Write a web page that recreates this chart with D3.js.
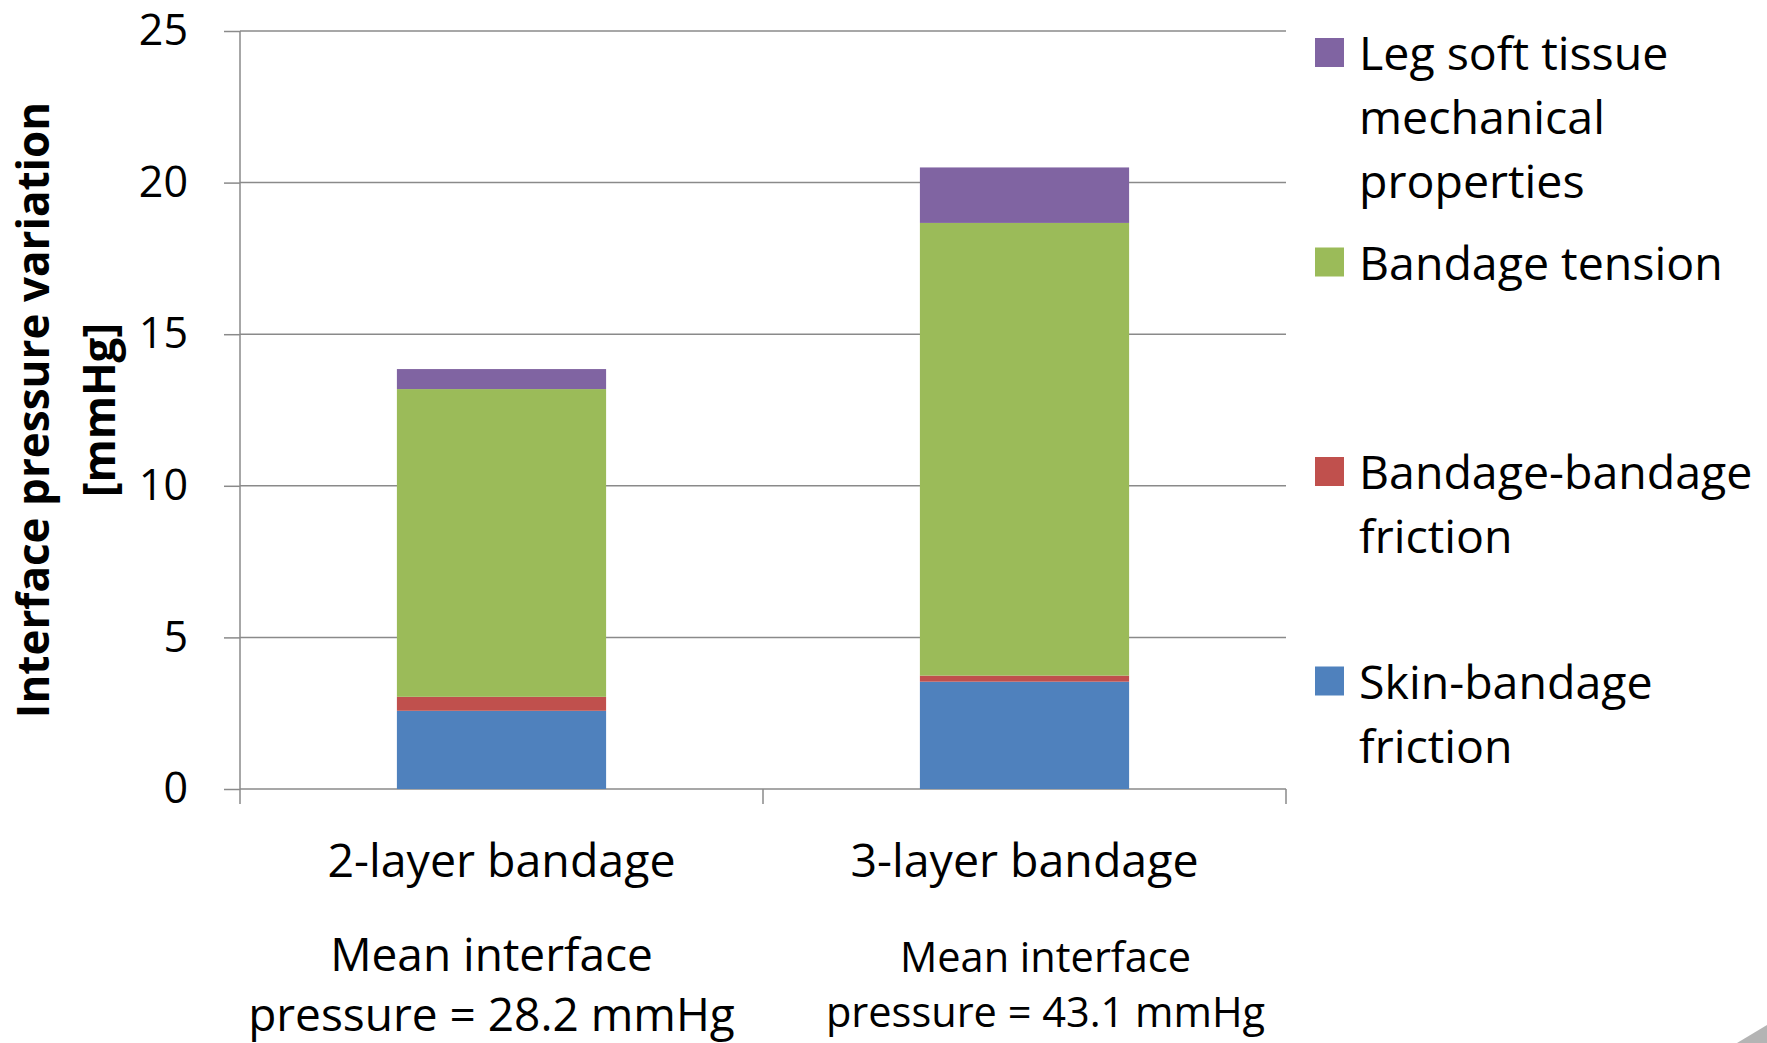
<!DOCTYPE html>
<html>
<head>
<meta charset="utf-8">
<script src="https://cdn.jsdelivr.net/npm/d3@7"></script>
<style>
  body { margin: 0; background: #fff; }
  svg { display: block; }
  text { font-family: "Open Sans", "DejaVu Sans", sans-serif; fill: #000; }
</style>
</head>
<body>
<svg id="chart" width="1767" height="1043"></svg>
<script>
// ---- data ----
const categories = ["2-layer bandage", "3-layer bandage"];
const meanPressure = ["28.2", "43.1"];           // mean interface pressure, mmHg
const seriesKeys = ["skin", "bandage", "tension", "tissue"];
const seriesLabels = [
  ["Skin-bandage", "friction"],
  ["Bandage-bandage", "friction"],
  ["Bandage tension"],
  ["Leg soft tissue", "mechanical", "properties"]
];
const skinBandageFriction    = [2.58, 3.54];
const bandageBandageFriction = [0.46, 0.20];
const bandageTension         = [10.15, 14.93];
const legSoftTissue          = [0.66, 1.83];
const yTickValues = [0, 5, 10, 15, 20, 25];

const colors = ["#4F81BD", "#C0504D", "#9BBB59", "#8064A2"];

// ---- layout ----
const svg = d3.select("#chart");
const plot = { left: 240, right: 1286, top: 31, bottom: 789 };
const gridColor = "#8a8a8a";
const labelSize = 46.5;

const rows = categories.map((c, i) => ({
  category: c,
  skin: skinBandageFriction[i],
  bandage: bandageBandageFriction[i],
  tension: bandageTension[i],
  tissue: legSoftTissue[i]
}));

const x = d3.scaleBand().domain(categories).range([plot.left, plot.right]).padding(0);
const y = d3.scaleLinear().domain([0, 25]).range([plot.bottom, plot.top]);
const barWidth = x.bandwidth() * 0.4;

// gridlines
svg.append("g")
  .selectAll("line")
  .data(yTickValues)
  .join("line")
  .attr("x1", plot.left).attr("x2", plot.right)
  .attr("y1", d => y(d)).attr("y2", d => y(d))
  .attr("stroke", gridColor).attr("stroke-width", 1.5);

// left axis with outward ticks
const yAxis = svg.append("g")
  .attr("transform", `translate(${plot.left},0)`)
  .call(d3.axisLeft(y).tickValues(yTickValues).tickSize(16).tickPadding(36).tickSizeOuter(0));
yAxis.select(".domain").remove();
yAxis.selectAll(".tick line").attr("stroke", gridColor).attr("stroke-width", 1.5);
yAxis.selectAll(".tick text").attr("font-size", 43).attr("fill", "#000")
  .style("font-family", '"Open Sans", sans-serif');
// vertical axis line
svg.append("line")
  .attr("x1", plot.left).attr("x2", plot.left)
  .attr("y1", plot.top).attr("y2", plot.bottom + 15)
  .attr("stroke", gridColor).attr("stroke-width", 1.5);

// bottom axis: category boundaries
const boundaries = categories.map(c => x(c)).concat([x(categories[categories.length - 1]) + x.bandwidth()]);
svg.append("g")
  .selectAll("line")
  .data(boundaries.slice(1))
  .join("line")
  .attr("x1", d => d).attr("x2", d => d)
  .attr("y1", plot.bottom).attr("y2", plot.bottom + 15)
  .attr("stroke", gridColor).attr("stroke-width", 1.5);

// stacked bars
const stack = d3.stack().keys(seriesKeys)(rows);
svg.append("g")
  .selectAll("g")
  .data(stack)
  .join("g")
  .attr("fill", (d, i) => colors[i])
  .selectAll("rect")
  .data(d => d)
  .join("rect")
  .attr("x", d => x(d.data.category) + (x.bandwidth() - barWidth) / 2)
  .attr("width", barWidth)
  .attr("y", d => y(d[1]))
  .attr("height", d => y(d[0]) - y(d[1]));

// category labels
svg.append("g")
  .selectAll("text")
  .data(categories)
  .join("text")
  .attr("x", d => x(d) + x.bandwidth() / 2)
  .attr("y", 877)
  .attr("text-anchor", "middle")
  .attr("font-size", labelSize)
  .text(d => d);

// mean interface pressure notes
const noteStyle = [
  { dx: -10, y1: 971, y2: 1031, size: 46 },
  { dx: 21, y1: 972, y2: 1027, size: 41.5 }
];
categories.forEach((c, i) => {
  const s = noteStyle[i];
  const cx = x(c) + x.bandwidth() / 2 + s.dx;
  const t = svg.append("text").attr("text-anchor", "middle").attr("font-size", s.size);
  t.append("tspan").attr("x", cx).attr("y", s.y1).text("Mean interface");
  t.append("tspan").attr("x", cx).attr("y", s.y2).text(`pressure = ${meanPressure[i]} mmHg`);
});

// y-axis title
const title = svg.append("text")
  .attr("transform", "translate(49,410) rotate(-90)")
  .attr("text-anchor", "middle")
  .attr("font-size", 44)
  .attr("font-weight", "bold");
title.append("tspan").attr("x", 0).attr("y", 0).text("Interface pressure variation");
title.append("tspan").attr("x", 0).attr("y", 66).text("[mmHg]");

// legend (top entry = top of stack)
const legend = svg.append("g");
const legendOrder = d3.range(seriesKeys.length).reverse();
legendOrder.forEach((si, k) => {
  const top = 38 + k * 209.5;
  legend.append("rect")
    .attr("x", 1315).attr("y", top)
    .attr("width", 29).attr("height", 29)
    .attr("fill", colors[si]);
  const t = legend.append("text").attr("font-size", labelSize);
  seriesLabels[si].forEach((line, j) => {
    t.append("tspan").attr("x", 1359).attr("y", top + 32 + j * 64).text(line);
  });
});

// page corner fold
svg.append("polygon")
  .attr("points", "1737,1043 1767,1025 1767,1043")
  .attr("fill", "#b4b4b4");
</script>
</body>
</html>
